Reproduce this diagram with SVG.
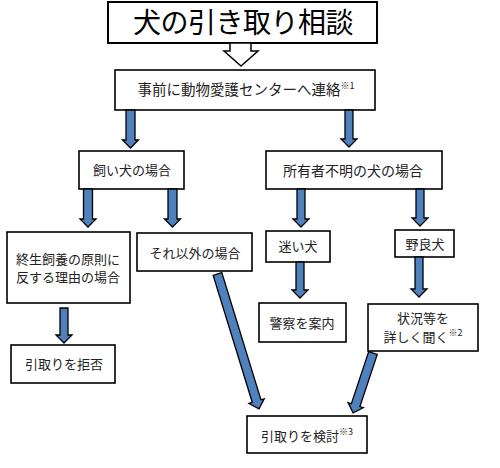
<svg xmlns="http://www.w3.org/2000/svg" width="500" height="468" viewBox="0 0 500 468">
<style>
.box{fill:#fff;stroke:#000;stroke-width:1.6}
.t{font-family:"Noto Sans CJK JP","Noto Sans",sans-serif;font-size:13px;fill:#222;text-anchor:middle}
.sup{font-size:9px}
.arr{fill:#4f81bd;stroke:#000;stroke-width:1.3;stroke-linejoin:miter}
</style>
<rect width="500" height="468" fill="#fff"/>
<g id="title">
<rect class="box" x="108" y="2" width="269" height="41" style="stroke-width:2"/>
<text class="t" x="243" y="33" style="font-size:28px;font-weight:400;letter-spacing:-0.5px;fill:#000">犬の引き取り相談</text>
</g>
<g id="contact">
<rect class="box" x="115" y="70" width="260" height="40"/>
<text class="t" x="246" y="95" style="font-size:14.5px">事前に動物愛護センターへ連絡<tspan class="sup" dy="-6">※1</tspan></text>
</g>
<g id="owned">
<rect class="box" x="79" y="151" width="105" height="38"/>
<text class="t" x="132" y="175">飼い犬の場合</text>
</g>
<g id="unknown">
<rect class="box" x="266" y="151" width="176" height="38"/>
<text class="t" x="353" y="176" style="font-size:14px">所有者不明の犬の場合</text>
</g>
<g id="against">
<rect class="box" x="7" y="232" width="123" height="71"/>
<text class="t" x="68" y="264">終生飼養の原則に</text>
<text class="t" x="68" y="282">反する理由の場合</text>
</g>
<g id="other">
<rect class="box" x="137" y="233" width="115" height="38"/>
<text class="t" x="195" y="258">それ以外の場合</text>
</g>
<g id="lost">
<rect class="box" x="266" y="231" width="64" height="31"/>
<text class="t" x="298" y="251">迷い犬</text>
</g>
<g id="stray">
<rect class="box" x="395" y="230" width="59" height="27"/>
<text class="t" x="425" y="249">野良犬</text>
</g>
<g id="refuse">
<rect class="box" x="11" y="345" width="104" height="38"/>
<text class="t" x="64" y="369">引取りを拒否</text>
</g>
<g id="police">
<rect class="box" x="259" y="303" width="87" height="39"/>
<text class="t" x="302" y="328">警察を案内</text>
</g>
<g id="ask">
<rect class="box" x="368" y="304" width="110" height="47"/>
<text class="t" x="423" y="323">状況等を</text>
<text class="t" x="423" y="342"><tspan>詳しく聞く</tspan><tspan class="sup" dy="-6">※2</tspan></text>
</g>
<g id="consider">
<rect class="box" x="247" y="416" width="120" height="37"/>
<text class="t" x="307" y="441">引取りを検討<tspan class="sup" dy="-6">※3</tspan></text>
</g>
<g id="connectors">
<polygon points="230,43 251,43 251,51 258,51 241,66 224,51 230,51" fill="#fff" stroke="#000" stroke-width="1.5"/>
<path class="arr" d="M126,110H135V140H138.5L130.5,148L122.5,140H126Z"/>
<path class="arr" d="M345,110H353V139H357L349,147L341,139H345Z"/>
<path class="arr" d="M83.5,189H92.5V219H96L88,227L80,219H83.5Z"/>
<path class="arr" d="M168,189H177V219H180.5L172.5,227L164.5,219H168Z"/>
<path class="arr" d="M297,189H305V219H309L301,227L293,219H297Z"/>
<path class="arr" d="M416,189H424V218H428L420,226L412,218H416Z"/>
<path class="arr" d="M296,262H304V290H308L300,298L292,290H296Z"/>
<path class="arr" d="M415,257H423V289H427L419,297L411,289H415Z"/>
<path class="arr" d="M60,308H68V335H72L64,343L56,335H60Z"/>
<path class="arr" transform="translate(217.5,274) rotate(-17.1)" d="M-4.5,0H4.5V133H8L0,141L-8,133H-4.5Z"/>
<path class="arr" transform="translate(373,353) rotate(18.4)" d="M-4.5,0H4.5V55H8L0,63L-8,55H-4.5Z"/>
</g>
</svg>
